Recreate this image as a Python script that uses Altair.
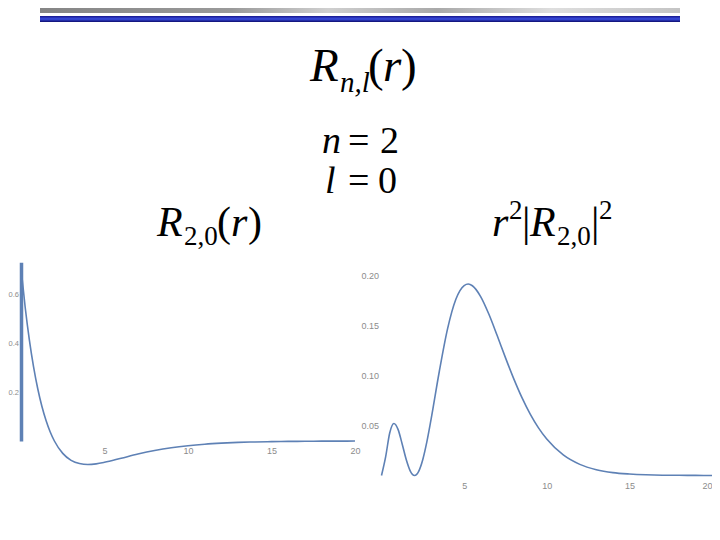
import altair as alt
import pandas as pd

# ---- data ----
r_left = [0, 0.25, 0.5, 0.75, 1, 1.25, 1.5, 1.75, 2, 2.5, 3, 3.5, 4, 4.5, 5,
          6, 7, 8, 9, 10, 11, 12, 13, 14, 15, 16, 17, 18, 19, 20]
R20 = [0.7071, 0.5460, 0.4130, 0.3037, 0.2144, 0.1419, 0.0835, 0.0368, 0.0,
       -0.0506, -0.0789, -0.0921, -0.0957, -0.0932, -0.0871,
       -0.0704, -0.0534, -0.0389, -0.0275, -0.0191, -0.0130, -0.0088, -0.0058,
       -0.0039, -0.0025, -0.0017, -0.0011, -0.0007, -0.0005, -0.0003]

r_right = [0, 0.25, 0.5, 0.75, 1, 1.25, 1.5, 1.75, 2, 2.25, 2.5, 2.75, 3,
           3.5, 4, 4.5, 5, 5.25, 5.5, 6, 6.5, 7, 7.5, 8, 8.5, 9, 9.5, 10,
           11, 12, 13, 14, 15, 16, 17, 18, 19, 20]
P20 = [0.0, 0.0186, 0.0427, 0.0519, 0.0460, 0.0315, 0.0157, 0.0042, 0.0,
       0.0042, 0.0160, 0.0340, 0.0560, 0.1040, 0.1465, 0.1758, 0.1895,
       0.1910, 0.1893, 0.1785, 0.1608, 0.1396, 0.1176, 0.0966, 0.0776,
       0.0612, 0.0475, 0.0363, 0.0205, 0.0111, 0.0058, 0.0029, 0.0015,
       0.0007, 0.0003, 0.0002, 0.0001, 0.0]

x_ticks = [5, 10, 15, 20]
y_ticks_left = [0.2, 0.4, 0.6]
y_ticks_right = [0.05, 0.10, 0.15, 0.20]

# ---- layout (page coordinates converted to chart coordinates) ----
W, H = 704, 516
OX, OY = 8, 8


def px(x):
    return x - OX


def py(y):
    return y - OY


CURVE = "#5E81B5"
LABEL = "#8c8c8c"
SERIF = "Liberation Serif"
SANS = "Liberation Sans"

one = pd.DataFrame({"k": [0]})


def txt(s, x, y, size, italic=False):
    return alt.Chart(one).mark_text(
        text=s, font=SERIF, fontSize=size,
        fontStyle="italic" if italic else "normal",
        align="left", baseline="alphabetic", color="black",
    ).encode(x=alt.value(px(x)), y=alt.value(py(y)))


def bar(x1, x2, y1, y2, grad):
    return alt.Chart(one).mark_rect(fill=grad).encode(
        x=alt.value(px(x1)), x2=alt.value(px(x2)),
        y=alt.value(py(y1)), y2=alt.value(py(y2)))


gray_grad = alt.LinearGradient(
    gradient="linear", x1=0, x2=1, y1=0, y2=0,
    stops=[alt.GradientStop(color="#858585", offset=0),
           alt.GradientStop(color="#9a9a9a", offset=0.3),
           alt.GradientStop(color="#cfcfcf", offset=0.45),
           alt.GradientStop(color="#a9a9a9", offset=0.62),
           alt.GradientStop(color="#dedede", offset=0.8),
           alt.GradientStop(color="#c4c4c4", offset=1)])
blue_grad = alt.LinearGradient(
    gradient="linear", x1=0, x2=0, y1=0, y2=1,
    stops=[alt.GradientStop(color="#16168c", offset=0),
           alt.GradientStop(color="#3a4ee0", offset=0.5),
           alt.GradientStop(color="#0c0c6e", offset=1)])

layers = [
    bar(40, 680, 8, 13, gray_grad),
    bar(40, 680, 16, 22, blue_grad),
    # title R_{n,l}(r)
    txt("R", 310, 81, 47, True),
    txt("n,l", 340, 92, 29, True),
    txt("(", 368, 81, 47),
    txt("r", 383, 81, 47, True),
    txt(")", 401, 81, 47),
    # n = 2, l = 0
    txt("n", 322, 153, 38, True),
    txt("=", 348, 153, 38),
    txt("2", 380, 153, 38),
    txt("l", 325, 193, 38, True),
    txt("=", 348, 193, 38),
    txt("0", 378, 193, 38),
    # R_{2,0}(r)
    txt("R", 157, 236, 42, True),
    txt("2,0", 184, 245, 27),
    txt("(", 217, 236, 42),
    txt("r", 231, 236, 42, True),
    txt(")", 248, 236, 42),
    # r^2 |R_{2,0}|^2
    txt("r", 492, 236, 42, True),
    txt("2", 509, 219, 27),
    txt("|", 522, 236, 42),
    txt("R", 530, 236, 42, True),
    txt("2,0", 557, 245, 27),
    txt("|", 591, 236, 42),
    txt("2", 599, 219, 27),
]

left_top = 0.73
left = alt.Chart(pd.DataFrame({"r": r_left, "R": R20})).mark_line(
    color=CURVE, strokeWidth=1.6, interpolate="monotone"
).encode(
    x=alt.X("r:Q",
            scale=alt.Scale(domain=[0, 20], range=[px(21), px(355)], nice=False, zero=False),
            axis=alt.Axis(orient="bottom", offset=py(441) - H, values=x_ticks, format="d",
                          domain=False, ticks=False, tickSize=0, grid=False,
                          labelColor=LABEL, labelFontSize=9, labelFont=SANS,
                          labelFlush=False, labelPadding=5, title="")),
    y=alt.Y("R:Q",
            scale=alt.Scale(domain=[0, left_top], range=[py(441), py(441 - left_top * 245)],
                            nice=False, zero=False),
            axis=alt.Axis(orient="left", offset=-px(21), values=y_ticks_left, format=".1f",
                          domain=True, domainColor=CURVE, domainWidth=3.5,
                          ticks=False, tickSize=0, grid=False,
                          labelColor=LABEL, labelFontSize=7.5, labelFont=SANS,
                          labelFlush=False, labelPadding=2.5, title="")),
)

right = alt.Chart(pd.DataFrame({"r2": r_right, "P": P20})).mark_line(
    color=CURVE, strokeWidth=1.6, interpolate="monotone"
).encode(
    x=alt.X("r2:Q",
            scale=alt.Scale(domain=[0, 20], range=[px(381.5), px(712)], nice=False, zero=False),
            axis=alt.Axis(orient="bottom", offset=py(475.5) - H, values=x_ticks, format="d",
                          domain=False, ticks=False, tickSize=0, grid=False,
                          labelColor=LABEL, labelFontSize=9, labelFont=SANS,
                          labelFlush=True, labelPadding=6, title="")),
    y=alt.Y("P:Q",
            scale=alt.Scale(domain=[0, 0.2], range=[py(475.5), py(275)], nice=False, zero=False),
            axis=alt.Axis(orient="left", offset=-px(381.5), values=y_ticks_right, format=".2f",
                          domain=False, ticks=False, tickSize=0, grid=False,
                          labelColor=LABEL, labelFontSize=9, labelFont=SANS,
                          labelFlush=False, labelPadding=3, title="")),
)

layers += [left, right]

chart = alt.layer(*layers).resolve_scale(
    x="independent", y="independent"
).resolve_axis(
    x="independent", y="independent"
).properties(
    width=W, height=H, padding=0,
    autosize=alt.AutoSizeParams(type="none"),
    background="white",
).configure_view(strokeWidth=0)

chart.save("out.html", embed_options={"renderer": "svg", "actions": False})
